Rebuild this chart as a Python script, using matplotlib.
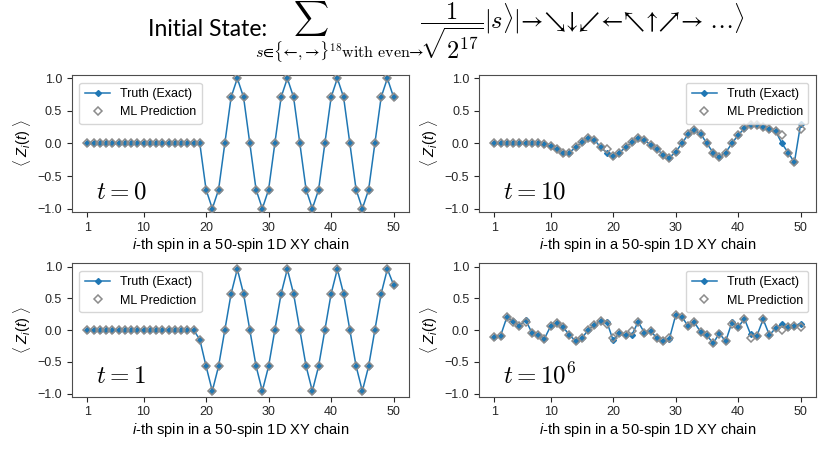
import numpy as np
import matplotlib
matplotlib.use("Agg")
import matplotlib.pyplot as plt

plt.rcParams["font.family"] = ["Liberation Sans", "DejaVu Sans"]
plt.rcParams["mathtext.fontset"] = "custom"
plt.rcParams["mathtext.rm"] = "Liberation Sans"
plt.rcParams["mathtext.it"] = "Liberation Sans:italic"
plt.rcParams["mathtext.fallback"] = "cm"

spins = np.arange(1, 51)
x_ticks = [1, 10, 20, 30, 40, 50]
y_ticks = [-1.0, -0.5, 0.0, 0.5, 1.0]

# <Z_i(t)>, spins 1..50
truth_t0 = [0, 0, 0, 0, 0, 0, 0, 0, 0, 0,
            0, 0, 0, 0, 0, 0, 0, 0, 0, -0.71,
            -1.0, -0.71, 0, 0.71, 1.0, 0.71, 0, -0.71, -1.0, -0.71,
            0, 0.71, 1.0, 0.71, 0, -0.71, -1.0, -0.71, 0, 0.71,
            1.0, 0.71, 0, -0.71, -1.0, -0.71, 0, 0.71, 1.0, 0.71]
pred_t0 = [0, 0, 0, 0, 0, 0, 0, 0, 0, 0,
           0, 0, 0, 0, 0, 0, 0, 0, 0, -0.71,
           -1.0, -0.71, 0, 0.71, 1.0, 0.71, 0, -0.71, -1.0, -0.71,
           0, 0.71, 1.0, 0.71, 0, -0.71, -1.0, -0.71, 0, 0.71,
           1.0, 0.71, 0, -0.71, -1.0, -0.71, 0, 0.71, 1.0, 0.71]

truth_t1 = [0, 0, 0, 0, 0, 0, 0, 0, 0, 0,
            0, 0, 0, 0, 0, 0, 0, 0, -0.15, -0.57,
            -0.96, -0.57, 0, 0.57, 0.96, 0.57, 0, -0.57, -0.96, -0.57,
            0, 0.57, 0.96, 0.57, 0, -0.57, -0.96, -0.57, 0, 0.57,
            0.96, 0.57, 0, -0.57, -0.96, -0.57, 0, 0.57, 0.96, 0.71]
pred_t1 = [0, 0, 0, 0, 0, 0, 0, 0, 0, 0,
           0, 0, 0, 0, 0, 0, 0, 0, -0.15, -0.57,
           -0.96, -0.57, 0, 0.57, 0.96, 0.57, 0, -0.57, -0.96, -0.57,
           0, 0.57, 0.96, 0.57, 0, -0.57, -0.96, -0.57, 0, 0.57,
           0.96, 0.57, 0, -0.57, -0.96, -0.57, 0, 0.57, 0.96, 0.71]

truth_t10 = [0, 0, 0, 0, 0, 0, 0, 0, -0.01, -0.04,
             -0.09, -0.15, -0.14, -0.06, 0.02, 0.08, 0.06, -0.06, -0.14, -0.2,
             -0.14, -0.06, 0.02, 0.09, 0.05, -0.02, -0.09, -0.17, -0.22, -0.13,
             0.0, 0.14, 0.2, 0.15, 0.0, -0.14, -0.21, -0.14, 0.0, 0.13,
             0.23, 0.28, 0.29, 0.26, 0.22, 0.19, 0.0, -0.14, -0.29, 0.3]
pred_t10 = [0, 0, 0, 0, 0, 0, 0, 0, -0.01, -0.04,
            -0.09, -0.15, -0.14, -0.06, 0.02, 0.08, 0.06, -0.05, -0.08, -0.19,
            -0.14, -0.06, 0.02, 0.09, 0.05, -0.02, -0.09, -0.17, -0.22, -0.13,
            0.0, 0.14, 0.2, 0.15, 0.0, -0.14, -0.21, -0.14, 0.0, 0.13,
            0.23, 0.28, 0.29, 0.26, 0.22, 0.19, 0.13, -0.14, -0.29, 0.22]

truth_t1e6 = [-0.11, -0.09, 0.2, 0.14, 0.06, 0.16, -0.04, -0.08, -0.14, 0.06,
              0.11, 0.05, -0.08, -0.17, -0.13, 0.0, 0.08, 0.14, 0.13, -0.16,
              -0.05, -0.08, -0.08, 0.13, -0.04, -0.01, -0.13, -0.18, -0.14, 0.23,
              0.21, 0.06, 0.12, -0.03, -0.08, -0.21, -0.05, -0.18, 0.12, 0.04,
              0.18, -0.07, -0.09, 0.17, -0.08, 0.03, 0.09, 0.04, 0.07, 0.1]
pred_t1e6 = [-0.11, -0.1, 0.2, 0.13, 0.06, 0.12, -0.04, -0.08, -0.14, 0.06,
             0.11, 0.05, -0.08, -0.17, -0.12, 0.0, 0.08, 0.14, 0.09, -0.13,
             -0.05, -0.08, -0.02, 0.13, -0.04, -0.01, -0.13, -0.18, -0.12, 0.23,
             0.21, 0.06, 0.12, -0.03, -0.08, -0.21, -0.06, -0.18, 0.09, 0.04,
             0.18, -0.13, -0.09, 0.17, -0.08, 0.03, 0.0, 0.04, 0.06, 0.04]

panels = [
    (truth_t0, pred_t0, r"$t = 0$", "upper left"),
    (truth_t10, pred_t10, r"$t = 10$", "upper right"),
    (truth_t1, pred_t1, r"$t = 1$", "upper left"),
    (truth_t1e6, pred_t1e6, r"$t = 10^6$", "upper right"),
]

# axes boxes in figure fractions (left, bottom, width, height)
boxes = [
    (0.0867, 0.5375, 0.406, 0.2985),
    (0.5771, 0.5375, 0.406, 0.2985),
    (0.0867, 0.1338, 0.406, 0.2912),
    (0.5771, 0.1338, 0.406, 0.2912),
]

fig = plt.figure(figsize=(8.3, 4.58), dpi=100)

for (truth, pred, tlabel, loc), box in zip(panels, boxes):
    ax = fig.add_axes(box)
    ax.plot(spins, truth, color="#1f77b4", lw=1.1, marker="D", ms=3.0,
            label="Truth (Exact)", zorder=2)
    ax.plot(spins, pred, ls="none", marker="D", ms=3.6, mfc="none",
            mec="#8c8c8c", mew=1.1, label="ML Prediction", zorder=3)
    ax.set_ylim(-1.05, 1.05)
    ax.set_xticks(x_ticks)
    ax.set_yticks(y_ticks)
    ax.tick_params(labelsize=9, colors="0.15", length=3.5)
    for sp in ax.spines.values():
        sp.set_color("0.3")
    ax.set_xlabel(r"$i$-th spin in a 50-spin 1D XY chain", fontsize=10.5,
                  labelpad=2)
    ax.set_ylabel(r"$\langle\ Z_i(t)\ \rangle$", fontsize=10.5, labelpad=3)
    ax.legend(loc=loc, fontsize=9, handlelength=2.0, borderpad=0.45,
              labelspacing=0.5, borderaxespad=0.6)
    ax.text(0.07, 0.10, tlabel, transform=ax.transAxes, fontsize=18,
            math_fontfamily="cm", va="baseline")

# header: initial state written out in pieces so the sum limit sits like the original
fig.text(148 / 830, 1 - 36 / 458, "Initial State:", fontsize=16.5,
         family="Lato", va="baseline")
fig.text(311 / 830, 1 - 19 / 458, r"$\sum$", fontsize=17.5,
         math_fontfamily="cm", va="center", ha="center")
fig.text(255 / 830, 1 - 58 / 458,
         r"$s∈\{←,→\}^{18}\mathrm{with\ even}→$",
         fontsize=11.5, math_fontfamily="cm", va="baseline", ha="left")
fig.text(420 / 830, 1 - 29 / 458,
         r"$\dfrac{1}{\sqrt{2^{17}}}|s\rangle|→↘↓↙←↖↑↗→\ \ldots\rangle$",
         fontsize=17.5, math_fontfamily="cm", va="baseline", ha="left")

fig.savefig("out.png", dpi=100)
